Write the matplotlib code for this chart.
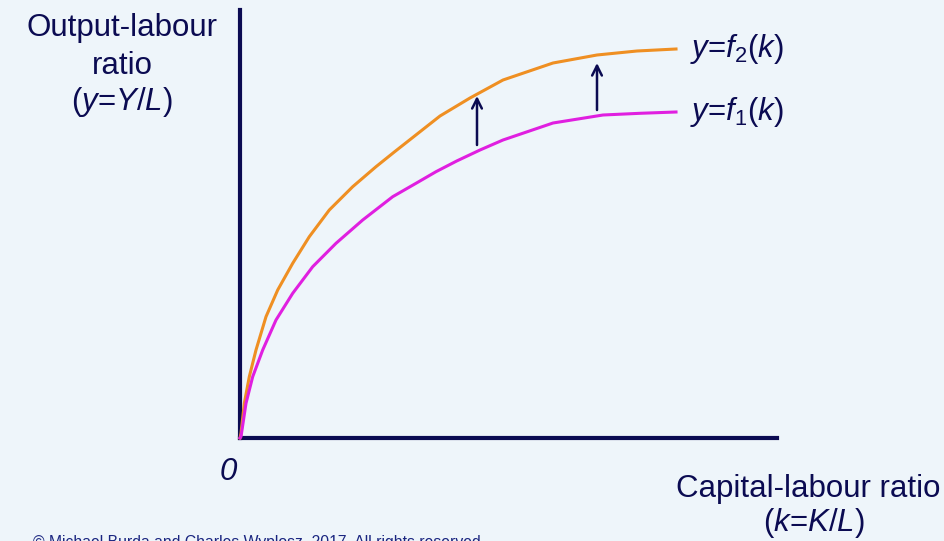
import matplotlib
matplotlib.use("Agg")
from matplotlib import pyplot as plt

# capital-labour ratio k and output y (origin at the axes corner)
k_f2 = [0, 1, 4.3, 9.3, 16, 26, 37.7, 52.7, 69.3, 89.3, 112.7, 136, 154.3, 200, 230, 263,
        313, 357, 397, 436]
y_f2 = [0, 4.7, 34.7, 61.3, 88, 121.3, 148, 174.7, 201.3, 228, 251.3, 271.3, 286, 322, 340, 358,
        375, 383, 387, 389]

k_f1 = [0, 1, 6, 12.7, 22.7, 36, 52.7, 72.7, 96, 122.7, 152.7, 176, 196, 216.7, 240, 263,
        313, 363, 400, 436]
y_f1 = [0, 1.3, 34.7, 61.3, 88, 118, 144.7, 171.3, 194.7, 218, 241.3, 254.7, 266.3, 277, 288, 298,
        315, 323, 324.7, 326]

# upward shifts from f1 to f2
arrow_k = [237, 357]
arrow_from = [293, 328]
arrow_to = [342, 375]

W, H = 945, 541
BG = "#eef5fa"
NAVY = "#0b0b52"
ORANGE = "#ef8f22"
MAGENTA = "#e01fe0"


def px(x, y):
    return x / W, 1 - y / H


def main():
    plt.rcParams["font.family"] = ["Liberation Sans", "DejaVu Sans"]
    plt.rcParams["mathtext.fontset"] = "custom"
    plt.rcParams["mathtext.rm"] = "Liberation Sans"
    plt.rcParams["mathtext.it"] = "Liberation Sans:italic"

    fig = plt.figure(figsize=(W / 100, H / 100), dpi=100)
    fig.patch.set_facecolor(BG)

    ax = fig.add_axes([240 / W, (H - 438) / H, (777 - 240) / W, (438 - 10) / H])
    ax.set_facecolor(BG)
    ax.set_xlim(0, 537)
    ax.set_ylim(0, 428)
    for side in ["top", "right"]:
        ax.spines[side].set_visible(False)
    for side in ["left", "bottom"]:
        ax.spines[side].set_linewidth(3)
        ax.spines[side].set_color(NAVY)
        ax.spines[side].set_capstyle("projecting")
    ax.set_xticks([])
    ax.set_yticks([])

    ax.plot(k_f2, y_f2, color=ORANGE, lw=2.2, clip_on=False, zorder=3, solid_joinstyle="round")
    ax.plot(k_f1, y_f1, color=MAGENTA, lw=2.2, clip_on=False, zorder=3, solid_joinstyle="round")

    for k, y0, y1 in zip(arrow_k, arrow_from, arrow_to):
        ax.annotate("", xy=(k, y1), xytext=(k, y0),
                    arrowprops=dict(arrowstyle="->,head_length=0.7,head_width=0.35",
                                    color=NAVY, lw=1.8, shrinkA=0, shrinkB=0))

    fs = 22.5
    fig.text(*px(122, 36), "Output-labour", ha="center", va="baseline", fontsize=fs, color=NAVY)
    fig.text(*px(122, 74), "ratio", ha="center", va="baseline", fontsize=fs, color=NAVY)
    fig.text(*px(122, 110), "($y$=$\\mathit{Y/L}$)", ha="center", va="baseline", fontsize=fs, color=NAVY)

    fig.text(*px(690, 57), "$y$=$f_{\\mathit{2}}$($k$)", ha="left", va="baseline", fontsize=fs, color=NAVY)
    fig.text(*px(690, 120), "$y$=$f_{\\mathit{1}}$($k$)", ha="left", va="baseline", fontsize=fs, color=NAVY)

    fig.text(*px(228, 480), "0", ha="center", va="baseline", fontsize=fs, color=NAVY, style="italic")

    fig.text(*px(808, 497), "Capital-labour ratio", ha="center", va="baseline", fontsize=fs, color=NAVY)
    fig.text(*px(814, 531), "($\\mathit{k}$=$\\mathit{K/L}$)", ha="center", va="baseline", fontsize=fs, color=NAVY)

    fig.text(*px(33, 535), "\u00a9 Michael Burda and Charles Wyplosz, 2017. All rights reserved.",
             ha="left", va="top", fontsize=11.3, color="#1a2580")

    fig.savefig("out.png", dpi=100, facecolor=BG)


if __name__ == '__main__':
    main()
